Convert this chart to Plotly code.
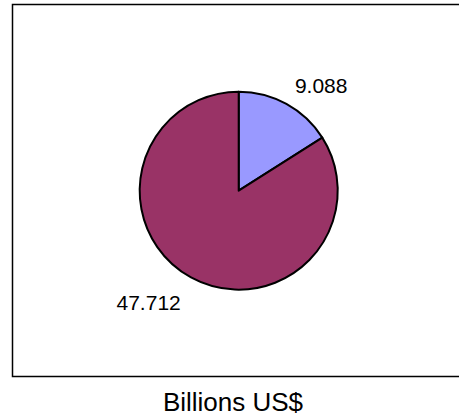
import plotly.graph_objects as go

labels = ["Series A", "Series B"]
values = [9.088, 47.712]
colors = ["#9999FF", "#993366"]
title_text = "Billions US$"

W, H = 459, 418
cx, cy, r = 238.7, 190.7, 99.0

fig = go.Figure()
fig.add_trace(go.Pie(
    labels=labels,
    values=values,
    sort=False,
    direction="clockwise",
    rotation=0,
    marker=dict(colors=colors, line=dict(color="black", width=2)),
    texttemplate=["<span style='font-size:21px'>%{value:.3f}</span><br>&nbsp;",
                  "&nbsp;<br><span style='font-size:21px'>%{value:.3f}</span>"],
    textposition="outside",
    outsidetextfont=dict(family="Liberation Sans, Arial, sans-serif", size=[10, 17], color="black"),
    showlegend=False,
    hoverinfo="label+value",
    domain=dict(x=[(cx - r) / W, (cx + r) / W], y=[1 - (cy + r) / H, 1 - (cy - r) / H]),
))

fig.update_layout(
    width=W, height=H,
    margin=dict(l=0, r=0, t=0, b=0),
    paper_bgcolor="white",
    plot_bgcolor="white",
    font=dict(family="Liberation Sans, Arial, sans-serif", color="black"),
    title=dict(text=title_text, x=233 / W, xanchor="center", y=1 - 402 / H, yanchor="middle",
               yref="container", xref="container",
               font=dict(size=26, family="Liberation Sans, Arial, sans-serif", color="black")),
    shapes=[dict(type="rect", xref="paper", yref="paper",
                 x0=12.5 / W, x1=1.05, y0=1 - 376.5 / H, y1=1 - 4.5 / H,
                 line=dict(color="black", width=1.5), fillcolor="rgba(0,0,0,0)", layer="below")],
)

fig.write_html("out.html", config={"displayModeBar": False},
               post_script="document.body.style.margin='0';document.body.style.padding='0';")
